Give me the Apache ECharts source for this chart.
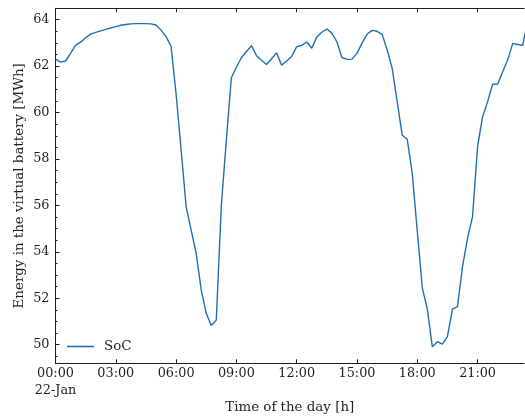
<!DOCTYPE html>
<html>
<head>
<meta charset="utf-8">
<script src="https://cdn.jsdelivr.net/npm/echarts@6/dist/echarts.min.js"></script>
<style>html,body{margin:0;padding:0;background:#fff;}#c{width:525px;height:419px;}</style>
</head>
<body>
<div id="c"></div>
<script>
// State of charge, 15-minute samples starting 22-Jan 00:00 (MWh)
const stepHours = 0.25;
const socValues = [
  62.30, 62.17, 62.22, 62.55, 62.90, 63.03, 63.22, 63.38, 63.45, 63.52,
  63.58, 63.64, 63.70, 63.76, 63.79, 63.82, 63.83, 63.83, 63.83, 63.82,
  63.77, 63.55, 63.27, 62.85, 60.80, 58.40, 55.95, 54.94, 53.94, 52.36,
  51.35, 50.83, 51.06, 56.00, 58.80, 61.50, 61.95, 62.36, 62.63, 62.88,
  62.45, 62.25, 62.07, 62.32, 62.57, 62.04, 62.22, 62.41, 62.84, 62.89,
  63.04, 62.77, 63.25, 63.46, 63.60, 63.42, 63.05, 62.37, 62.29, 62.30,
  62.55, 62.99, 63.37, 63.54, 63.50, 63.37, 62.70, 61.91, 60.47, 59.03,
  58.85, 57.38, 54.90, 52.45, 51.53, 49.91, 50.13, 50.03, 50.35, 51.53,
  51.64, 53.36, 54.58, 55.52, 58.53, 59.82, 60.47, 61.22, 61.23, 61.76,
  62.27, 62.98, 62.93, 62.90, 64.00
];
const xTickHours = [0, 3, 6, 9, 12, 15, 18, 21];
const xTickLabels = ['00:00\n22-Jan', '03:00', '06:00', '09:00', '12:00', '15:00', '18:00', '21:00'];
const yTicks = [50, 52, 54, 56, 58, 60, 62, 64];
const yMinorTicks = [49.5,50,50.5,51,51.5,52,52.5,53,53.5,54,54.5,55,55.5,56,56.5,57,57.5,58,58.5,59,59.5,60,60.5,61,61.5,62,62.5,63,63.5,64,64.5];
const seriesName = 'SoC';
const xTitle = 'Time of the day [h]';
const yTitle = 'Energy in the virtual battery [MWh]';

const font = 'DejaVu Serif';
const ink = '#1e1e1e';
const data = socValues.map((v, i) => [i * stepHours, v]);

const chart = echarts.init(document.getElementById('c'), null, {renderer: 'canvas'});
const xMin = 0, xMax = 23.31, yMin = 49.2, yMax = 64.49;
chart.setOption({
  animation: false,
  backgroundColor: '#fff',
  grid: {left: 55.5, right: 1, top: 8.3, bottom: 55.7, containLabel: false, outerBoundsMode: 'none'},
  legend: {
    left: 62, top: 335,
    itemWidth: 27, itemHeight: 1.6, icon: 'rect',
    textStyle: {fontFamily: font, fontSize: 13.4, color: ink, padding: [0, 0, 0, 5]},
    data: [seriesName]
  },
  xAxis: [{
    type: 'value', min: xMin, max: xMax, position: 'bottom',
    name: xTitle, nameLocation: 'middle', nameGap: 38, nameMoveOverlap: false,
    nameTextStyle: {fontFamily: font, fontSize: 13.4, color: ink},
    axisLine: {show: true, onZero: false, lineStyle: {color: ink, width: 1}},
    axisTick: {show: true, inside: true, length: 4, customValues: xTickHours, lineStyle: {color: ink}},
    axisLabel: {show: true, customValues: xTickHours, margin: 2, fontFamily: font, fontSize: 12.8, color: ink, lineHeight: 17,
      formatter: v => { const i = xTickHours.indexOf(Math.round(v)); return i >= 0 ? xTickLabels[i] : ''; }},
    splitLine: {show: false}
  }, {
    type: 'value', min: xMin, max: xMax, position: 'top',
    axisLine: {show: true, onZero: false, lineStyle: {color: ink, width: 1}},
    axisTick: {show: true, inside: true, length: 4, customValues: xTickHours, lineStyle: {color: ink}},
    axisLabel: {show: false},
    splitLine: {show: false}
  }],
  yAxis: [{
    type: 'value', min: yMin, max: yMax, position: 'left',
    name: yTitle, nameLocation: 'middle', nameGap: 29, nameMoveOverlap: false,
    nameTextStyle: {fontFamily: font, fontSize: 13.4, color: ink},
    axisLine: {show: true, onZero: false, lineStyle: {color: ink, width: 1}},
    axisTick: {show: true, inside: true, length: 4, customValues: yTicks, lineStyle: {color: ink}},
    axisLabel: {show: true, customValues: yTicks, margin: 6, fontFamily: font, fontSize: 12.8, color: ink},
    splitLine: {show: false}
  }, {
    type: 'value', min: yMin, max: yMax, position: 'left',
    axisLine: {show: false},
    axisTick: {show: true, inside: true, length: 2, customValues: yMinorTicks, lineStyle: {color: ink}},
    axisLabel: {show: false},
    splitLine: {show: false}
  }],
  series: [{
    name: seriesName, type: 'line', data: data,
    xAxisIndex: 0, yAxisIndex: 0,
    symbol: 'none', clip: true,
    color: '#1f6fb4',
    lineStyle: {width: 1.4, color: '#1f6fb4'}
  }]
});
</script>
</body>
</html>
